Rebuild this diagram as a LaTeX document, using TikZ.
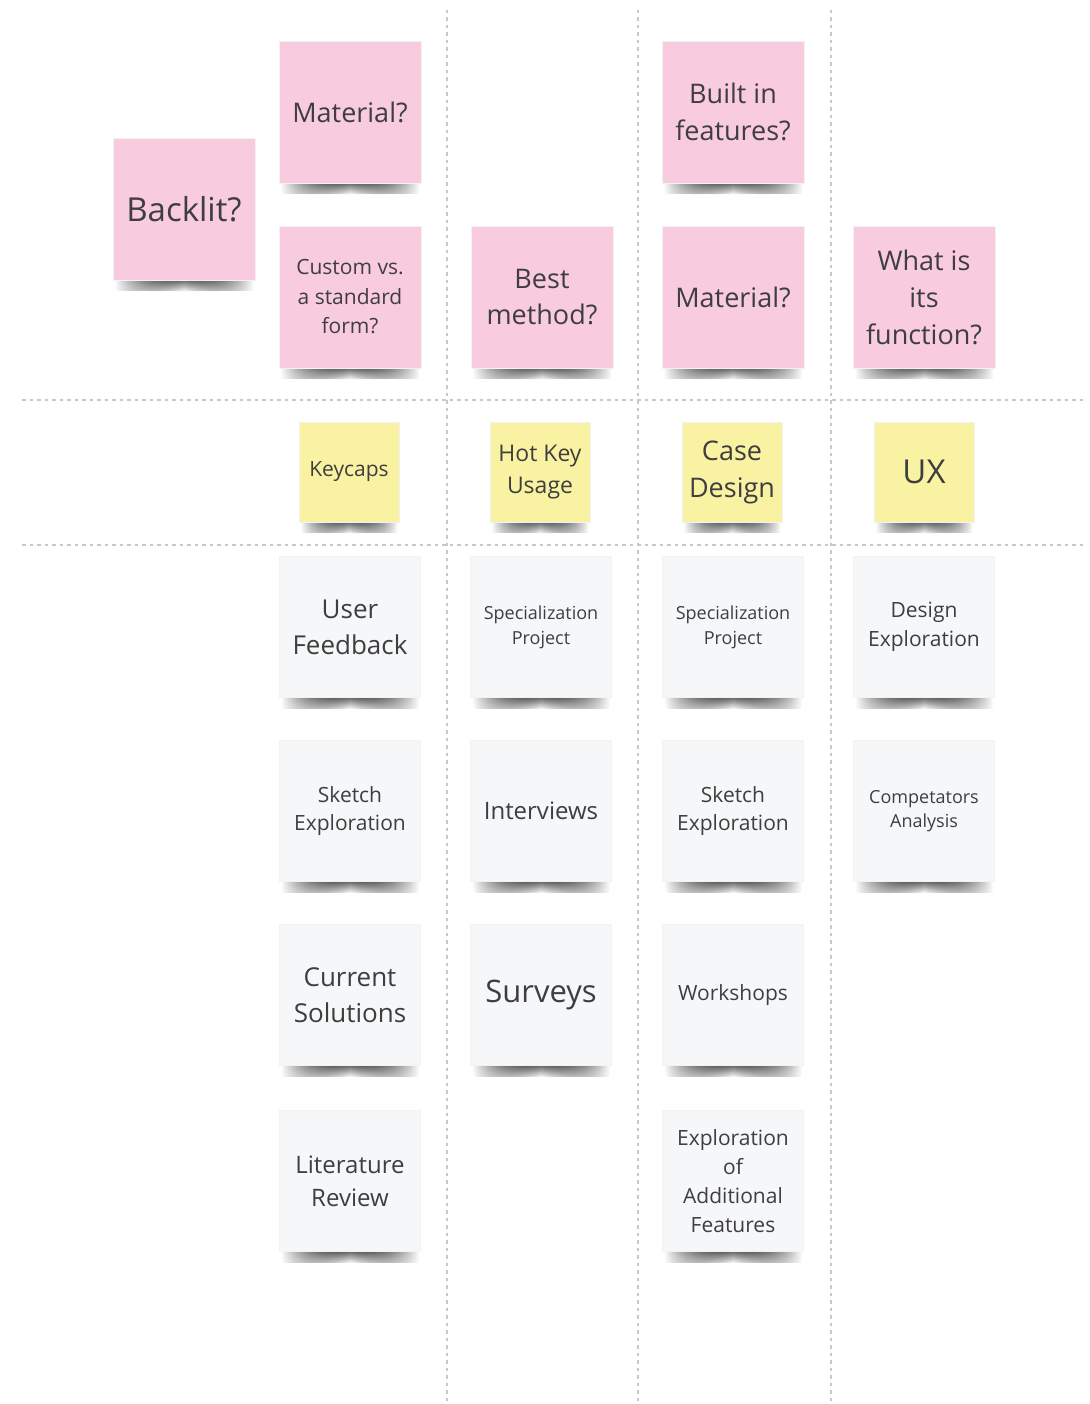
\documentclass[tikz,border=0pt]{standalone}
\usepackage{fontspec}
\setmainfont{Open Sans}
\usetikzlibrary{backgrounds, fadings}
\definecolor{notepink}{RGB}{248,204,222}
\definecolor{noteyellow}{RGB}{250,242,163}
\definecolor{notegrey}{RGB}{245,247,249}
\definecolor{inkgrey}{RGB}{62,62,62}
\definecolor{gridgrey}{RGB}{200,200,200}
\tikzfading[name=fadeends, left color=transparent!100, right color=transparent!100, middle color=transparent!0]
\tikzset{
    note/.style={inner sep=0pt, align=center, text=inkgrey, draw=black!5, line width=0.6pt},
    pinknote/.style={note, fill=notepink, minimum size=142pt},
    yellownote/.style={note, fill=noteyellow, minimum size=100pt},
    greynote/.style={note, fill=notegrey, minimum size=141pt},
    fs/.style 2 args={font=\fontsize{#1}{#2}\selectfont},
    gridline/.style={gridgrey, dashed, dash pattern=on 3.5pt off 4pt, line width=1.5pt},
    shadowband/.style={top color=black!62, bottom color=white, path fading=fadeends}
}
\begin{document}
\begin{tikzpicture}[x=1pt, y=-1pt]
    \useasboundingbox (0,0) rectangle (1089,1404);
    % dashed grid
    \foreach \x in {447, 638, 831}{
        \draw[gridline] (\x, 10) -- (\x, 1404);
    }
    \foreach \y in {400, 545}{
        \draw[gridline] (22, \y) -- (1085, \y);
    }
    % questions
    \node[pinknote, fs={33}{40}] (backlit) at (184, 209) {Backlit?};
    \node[pinknote, fs={27}{37}] (matkey) at (350, 112) {Material?};
    \node[pinknote, fs={21}{29.5}] (custom) at (350, 297) {Custom vs.\\a standard\\form?};
    \node[pinknote, fs={27}{36}] (best) at (542, 297) {Best\\method?};
    \node[pinknote, fs={27}{37}] (builtin) at (733, 112) {Built in\\features?};
    \node[pinknote, fs={27}{37}] (matcase) at (733, 297) {Material?};
    \node[pinknote, fs={27}{37}] (function) at (924, 297) {What is\\its\\function?};
    % topics
    \node[yellownote, fs={21}{30}] (keycaps) at (349, 472) {Keycaps};
    \node[yellownote, fs={23}{32}] (hotkey) at (540, 472) {Hot Key\\Usage};
    \node[yellownote, fs={27}{37}] (case) at (732, 472) {Case\\Design};
    \node[yellownote, fs={33}{40}] (ux) at (924, 472) {UX};
    % methods
    \node[greynote, fs={26}{36}] (feedback) at (350, 627) {User\\Feedback};
    \node[greynote, fs={18}{25}] (specA) at (541, 627) {Specialization\\Project};
    \node[greynote, fs={18}{25}] (specB) at (733, 627) {Specialization\\Project};
    \node[greynote, fs={21}{29}] (designexp) at (924, 627) {Design\\Exploration};
    \node[greynote, fs={21}{28}] (sketchA) at (350, 811) {Sketch\\Exploration};
    \node[greynote, fs={24}{33}] (interviews) at (541, 811) {Interviews};
    \node[greynote, fs={21}{28}] (sketchB) at (733, 811) {Sketch\\Exploration};
    \node[greynote, fs={18}{24}] (competitors) at (924, 811) {Competators\\Analysis};
    \node[greynote, fs={26}{36}] (current) at (350, 995) {Current\\Solutions};
    \node[greynote, fs={31}{40}] (surveys) at (541, 995) {Surveys};
    \node[greynote, fs={21}{29}] (workshops) at (733, 995) {Workshops};
    \node[greynote, fs={24}{33}] (literature) at (350, 1181) {Literature\\Review};
    \node[greynote, fs={21}{29}] (additional) at (733, 1181) {Exploration\\of\\Additional\\Features};
    % shadows under the notes
    \begin{scope}[on background layer]
        \fill[white] (0,0) rectangle (1089,1404);
        \foreach \n in {backlit, matkey, custom, best, builtin, matcase, function,
                        keycaps, hotkey, case, ux,
                        feedback, specA, specB, designexp, sketchA, interviews, sketchB,
                        competitors, current, surveys, workshops, literature, additional}{
            \fill[shadowband] ([xshift=2pt, yshift=1pt]\n.south west) rectangle ([xshift=-2pt, yshift=-11pt]\n.south east);
        }
    \end{scope}
\end{tikzpicture}
\end{document}
